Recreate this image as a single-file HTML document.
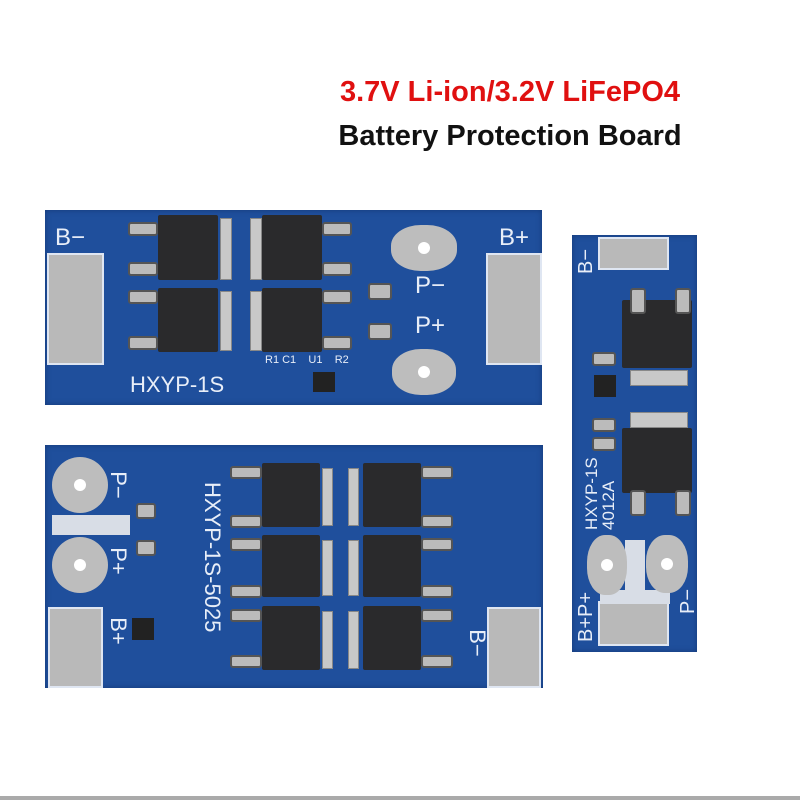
<!DOCTYPE html><html><head><style>
body{margin:0;width:800px;height:800px;background:#fff;position:relative;overflow:hidden;font-family:"Liberation Sans",sans-serif}
.a{position:absolute}
.b{position:absolute;background:#1f4f9c;box-shadow:inset 0 0 6px #163a78}
.pad{position:absolute;background:#b9b9b9;border:2px solid #dfe6f2;box-sizing:border-box}
.rp{position:absolute;background:#bdbdbd;border-radius:50%}
.rp:after{content:"";position:absolute;left:50%;top:50%;width:12px;height:12px;margin:-6px;background:#fff;border-radius:50%}
.m{position:absolute;background:#2a2a2c;border-radius:2px}
.tab{position:absolute;background:#c8c8c8;border:1px solid #888}
.ld{position:absolute;background:#bbb;border:2px solid #555;box-sizing:border-box;border-radius:3px}
.t{position:absolute;color:#e8eef8;white-space:nowrap}
.s{position:absolute;background:#222;}
</style></head><body>
<div class="a" style="left:300px;top:76px;width:420px;text-align:center;color:#e01010;font-weight:bold;font-size:29px">3.7V Li-ion/3.2V LiFePO4</div>
<div class="a" style="left:300px;top:120px;width:420px;text-align:center;color:#111;font-weight:bold;font-size:29px">Battery Protection Board</div>

<!-- Board 1 -->
<div class="b" style="left:45px;top:210px;width:497px;height:195px"></div>
<div class="t" style="left:55px;top:224px;font-size:24px">B−</div>
<div class="t" style="left:499px;top:224px;font-size:24px">B+</div>
<div class="pad" style="left:47px;top:253px;width:57px;height:112px"></div>
<div class="pad" style="left:486px;top:253px;width:56px;height:112px"></div>
<div class="rp" style="left:391px;top:225px;width:66px;height:46px;border-radius:45%"></div>
<div class="rp" style="left:392px;top:349px;width:64px;height:46px;border-radius:45%"></div>
<div class="t" style="left:415px;top:272px;font-size:24px">P−</div>
<div class="t" style="left:415px;top:312px;font-size:24px">P+</div>
<div class="t" style="left:130px;top:372px;font-size:22px">HXYP-1S</div>
<div class="t" style="left:265px;top:354px;font-size:11px">R1 C1 &nbsp; &nbsp;U1 &nbsp; &nbsp;R2</div>
<div class="s" style="left:313px;top:372px;width:22px;height:20px"></div>
<div class="ld" style="left:368px;top:283px;width:24px;height:17px"></div>
<div class="ld" style="left:368px;top:323px;width:24px;height:17px"></div>
<div class="m" style="left:158px;top:215px;width:60px;height:65px"></div>
<div class="m" style="left:262px;top:215px;width:60px;height:65px"></div>
<div class="m" style="left:158px;top:288px;width:60px;height:64px"></div>
<div class="m" style="left:262px;top:288px;width:60px;height:64px"></div>
<div class="tab" style="left:220px;top:218px;width:10px;height:60px"></div>
<div class="tab" style="left:250px;top:218px;width:10px;height:60px"></div>
<div class="tab" style="left:220px;top:291px;width:10px;height:58px"></div>
<div class="tab" style="left:250px;top:291px;width:10px;height:58px"></div>
<div class="ld" style="left:128px;top:222px;width:30px;height:14px"></div>
<div class="ld" style="left:128px;top:262px;width:30px;height:14px"></div>
<div class="ld" style="left:128px;top:290px;width:30px;height:14px"></div>
<div class="ld" style="left:128px;top:336px;width:30px;height:14px"></div>
<div class="ld" style="left:322px;top:222px;width:30px;height:14px"></div>
<div class="ld" style="left:322px;top:262px;width:30px;height:14px"></div>
<div class="ld" style="left:322px;top:290px;width:30px;height:14px"></div>
<div class="ld" style="left:322px;top:336px;width:30px;height:14px"></div>

<!-- Board 2 -->
<div class="b" style="left:45px;top:445px;width:498px;height:243px"></div>
<div class="rp" style="left:52px;top:457px;width:56px;height:56px"></div>
<div class="rp" style="left:52px;top:537px;width:56px;height:56px"></div>
<div class="a" style="left:52px;top:515px;width:78px;height:20px;background:#d8dde6"></div>
<div class="pad" style="left:48px;top:607px;width:55px;height:81px"></div>
<div class="pad" style="left:487px;top:607px;width:54px;height:81px"></div>
<div class="t" style="left:104px;top:472px;font-size:22px;transform:rotate(90deg);transform-origin:center">P−</div>
<div class="t" style="left:104px;top:548px;font-size:22px;transform:rotate(90deg)">P+</div>
<div class="t" style="left:104px;top:618px;font-size:22px;transform:rotate(90deg)">B+</div>
<div class="t" style="left:463px;top:630px;font-size:22px;transform:rotate(90deg)">B−</div>
<div class="t" style="font-size:22px;transform:rotate(90deg);transform-origin:0 0;left:225px;top:482px">HXYP-1S-5025</div>
<div class="ld" style="left:136px;top:503px;width:20px;height:16px"></div>
<div class="ld" style="left:136px;top:540px;width:20px;height:16px"></div>
<div class="s" style="left:132px;top:618px;width:22px;height:22px"></div>
<div class="m" style="left:262px;top:463px;width:58px;height:64px"></div>
<div class="m" style="left:262px;top:535px;width:58px;height:62px"></div>
<div class="m" style="left:262px;top:606px;width:58px;height:64px"></div>
<div class="m" style="left:363px;top:463px;width:58px;height:64px"></div>
<div class="m" style="left:363px;top:535px;width:58px;height:62px"></div>
<div class="m" style="left:363px;top:606px;width:58px;height:64px"></div>
<div class="tab" style="left:322px;top:468px;width:9px;height:56px"></div>
<div class="tab" style="left:322px;top:540px;width:9px;height:54px"></div>
<div class="tab" style="left:322px;top:611px;width:9px;height:56px"></div>
<div class="tab" style="left:348px;top:468px;width:9px;height:56px"></div>
<div class="tab" style="left:348px;top:540px;width:9px;height:54px"></div>
<div class="tab" style="left:348px;top:611px;width:9px;height:56px"></div>
<div class="ld" style="left:230px;top:466px;width:32px;height:13px"></div>
<div class="ld" style="left:230px;top:515px;width:32px;height:13px"></div>
<div class="ld" style="left:230px;top:538px;width:32px;height:13px"></div>
<div class="ld" style="left:230px;top:585px;width:32px;height:13px"></div>
<div class="ld" style="left:230px;top:609px;width:32px;height:13px"></div>
<div class="ld" style="left:230px;top:655px;width:32px;height:13px"></div>
<div class="ld" style="left:421px;top:466px;width:32px;height:13px"></div>
<div class="ld" style="left:421px;top:515px;width:32px;height:13px"></div>
<div class="ld" style="left:421px;top:538px;width:32px;height:13px"></div>
<div class="ld" style="left:421px;top:585px;width:32px;height:13px"></div>
<div class="ld" style="left:421px;top:609px;width:32px;height:13px"></div>
<div class="ld" style="left:421px;top:655px;width:32px;height:13px"></div>

<!-- Board 3 -->
<div class="b" style="left:572px;top:235px;width:125px;height:417px"></div>
<div class="pad" style="left:598px;top:237px;width:71px;height:33px"></div>
<div class="pad" style="left:598px;top:601px;width:71px;height:45px"></div>
<div class="a" style="left:625px;top:540px;width:20px;height:62px;background:#d8dde6"></div>
<div class="a" style="left:600px;top:590px;width:70px;height:14px;background:#d8dde6"></div>
<div class="rp" style="left:587px;top:535px;width:40px;height:60px;border-radius:45%"></div>
<div class="rp" style="left:646px;top:535px;width:42px;height:58px;border-radius:45%"></div>
<div class="t" style="left:575px;font-size:20px;transform:rotate(-90deg);transform-origin:0 0;top:274px">B−</div>
<div class="t" style="left:575px;top:642px;font-size:20px;transform:rotate(-90deg);transform-origin:0 0">B+P+</div>
<div class="t" style="left:677px;top:614px;font-size:20px;transform:rotate(-90deg);transform-origin:0 0">P−</div>
<div class="t" style="left:583px;top:530px;font-size:17px;line-height:17px;transform:rotate(-90deg);transform-origin:0 0">HXYP-1S<br>4012A</div>
<div class="m" style="left:622px;top:300px;width:70px;height:68px"></div>
<div class="tab" style="left:630px;top:370px;width:56px;height:14px"></div>
<div class="tab" style="left:630px;top:412px;width:56px;height:14px"></div>
<div class="m" style="left:622px;top:428px;width:70px;height:65px"></div>
<div class="ld" style="left:630px;top:288px;width:16px;height:26px"></div>
<div class="ld" style="left:675px;top:288px;width:16px;height:26px"></div>
<div class="ld" style="left:630px;top:490px;width:16px;height:26px"></div>
<div class="ld" style="left:675px;top:490px;width:16px;height:26px"></div>
<div class="s" style="left:594px;top:375px;width:22px;height:22px"></div>
<div class="ld" style="left:592px;top:352px;width:24px;height:14px"></div>
<div class="ld" style="left:592px;top:418px;width:24px;height:14px"></div>
<div class="ld" style="left:592px;top:437px;width:24px;height:14px"></div>

<div class="a" style="left:0;top:796px;width:800px;height:4px;background:#aaa"></div>
</body></html>
